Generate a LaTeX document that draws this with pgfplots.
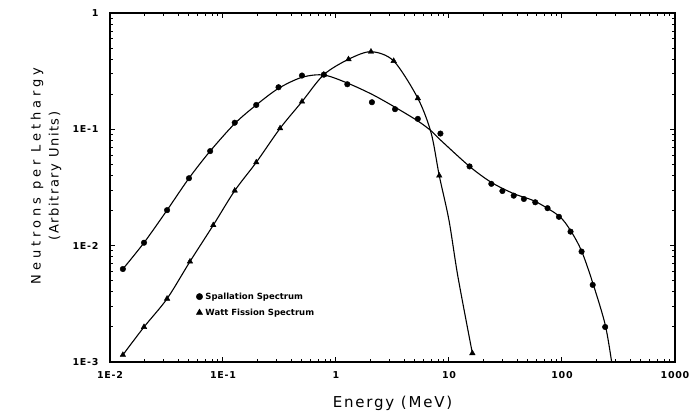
\documentclass[border=0pt]{standalone}
\usepackage{fontspec}
\setmainfont{DejaVu Sans}
\newfontfamily\labfont[LetterSpace=12]{DejaVu Sans}
\newfontfamily\widefont[LetterSpace=30]{DejaVu Sans}
\newfontfamily\tickfont[LetterSpace=8]{DejaVu Sans}
\usepackage{pgfplots}
\pgfplotsset{compat=1.18}
\begin{document}
\begin{tikzpicture}[x=1pt,y=1pt]
\begin{axis}[
  at={(0pt,0pt)}, anchor=south west,
  scale only axis, width=565pt, height=349pt,
  xmode=log, ymode=log,
  xmin=0.01, xmax=1000, ymin=0.001, ymax=1,
  xtick={0.01,0.1,1,10,100,1000},
  xticklabels={1E-2,1E-1,1,10,100,1000},
  ytick={0.001,0.01,0.1,1},
  yticklabels={1E-3,1E-2,1E-1,1},
  minor tick num=0, minor xtick={}, minor ytick={},
  tick align=inside, major tick length=5pt,
  axis line style={line width=1.1pt},
  every tick/.style={line width=1pt, black},
  tick label style={font=\tickfont\fontsize{9.5}{11}\selectfont\bfseries},
  xticklabel style={yshift=-6pt},
  yticklabel style={xshift=-8pt},
  xlabel={Energy (MeV)},
  xlabel style={font=\labfont\fontsize{15}{17}\selectfont, at={(axis description cs:0.5,-0.1175)}, anchor=center},
  ylabel={{\widefont Neutrons per Lethargy}\\(Arbitrary Units)},
  ylabel style={font=\labfont\fontsize{13}{18}\selectfont, align=center, at={(axis description cs:-0.113,0.533)}, anchor=center},
  legend style={draw=none, fill=none, at={(axis description cs:0.152,0.205)}, anchor=north west,
    inner sep=0pt, font=\fontsize{8.5}{10}\selectfont\bfseries, row sep=4pt,
    legend cell align=left},
  legend image code/.code={\path[draw=none,fill=none] (-0.12cm,-0.1cm) rectangle (0.14cm,0.1cm); \draw[#1] plot coordinates {(0cm,0cm)};},
  clip=false,
]
% legend entries (marks only)
\addlegendimage{only marks, mark=*, mark size=3.2pt, black}
\addlegendentry{Spallation Spectrum}
\addlegendimage{only marks, mark=triangle*, mark size=3.6pt, black}
\addlegendentry{Watt Fission Spectrum}

% Spallation fitted curve
\addplot[black, line width=1.1pt, smooth, tension=0.5, forget plot] coordinates {
(0.013,0.0063) (0.020,0.0106) (0.032,0.0202) (0.050,0.038) (0.077,0.065)
(0.127,0.112) (0.197,0.162) (0.31,0.225) (0.50,0.28) (0.78,0.293)
(1.26,0.25) (2.08,0.20) (3.33,0.155) (5.3,0.118) (6.95,0.097) (8.4,0.081)
(15.2,0.048) (23.7,0.035) (37.4,0.028) (58,0.024) (94,0.018)
(119,0.0135) (149,0.009) (187,0.0048) (241,0.0021) (275,0.001)
};
% Watt fission fitted curve
\addplot[black, line width=1.1pt, smooth, tension=0.5, forget plot] coordinates {
(0.013,0.00115) (0.020,0.0020) (0.032,0.0035) (0.051,0.0073) (0.082,0.015)
(0.127,0.0297) (0.197,0.052) (0.32,0.102) (0.50,0.173) (0.78,0.295)
(1.29,0.40) (2.04,0.465) (3.24,0.387) (5.3,0.185) (6.95,0.093) (8.2,0.040)
(10.0,0.0165) (12.0,0.0054) (16.1,0.00119)
};
% Spallation data points
\addplot[only marks, mark=*, mark size=2.8pt, black, forget plot] coordinates {
(0.013,0.0063) (0.020,0.0106) (0.032,0.0202) (0.050,0.038) (0.077,0.065)
(0.127,0.114) (0.197,0.162) (0.31,0.23) (0.50,0.29) (0.78,0.295)
(1.26,0.244) (2.08,0.171) (3.33,0.149) (5.3,0.123) (8.4,0.092)
(15.2,0.048) (23.7,0.034) (29.7,0.0295) (37.4,0.0269) (46,0.0252)
(58,0.0236) (74.5,0.021) (94,0.0177) (119,0.0132) (149,0.0089)
(187,0.0046) (241,0.0020)
};
% Watt fission data points
\addplot[only marks, mark=triangle*, mark size=3.2pt, black, forget plot] coordinates {
(0.013,0.00115) (0.020,0.0020) (0.032,0.0035) (0.051,0.0073) (0.082,0.015)
(0.127,0.0297) (0.197,0.052) (0.32,0.102) (0.50,0.173) (0.78,0.295)
(1.29,0.40) (2.04,0.465) (3.24,0.387) (5.3,0.185) (8.2,0.040) (16.1,0.00119)
};
\end{axis}
\pgfresetboundingbox
\useasboundingbox (-110pt,-55pt) rectangle (579pt,362pt);
\end{tikzpicture}
\end{document}
